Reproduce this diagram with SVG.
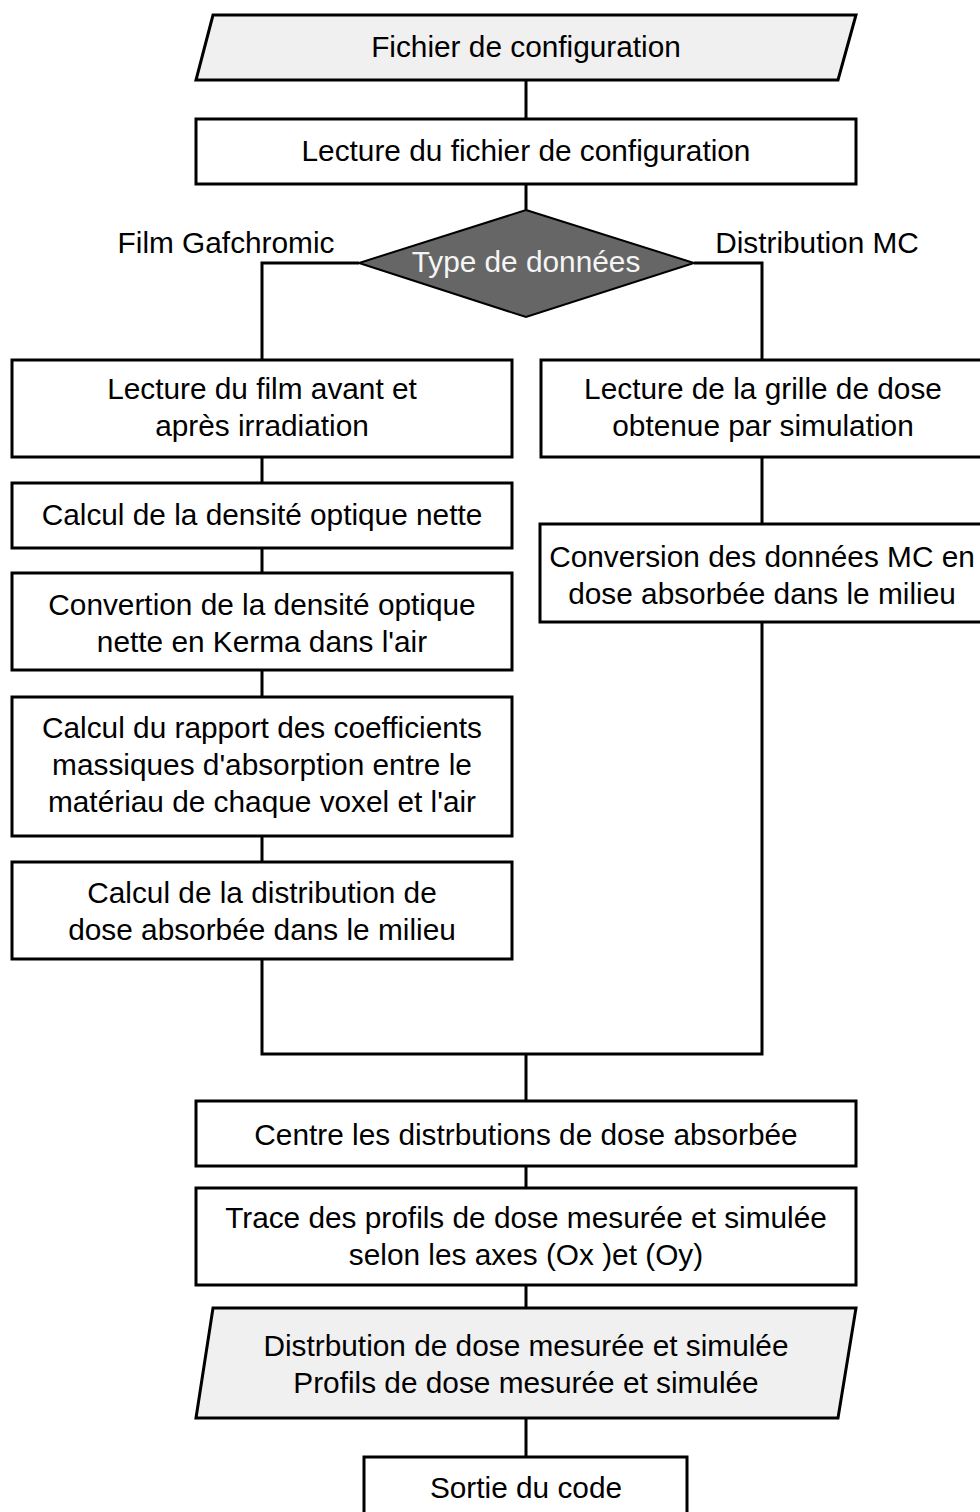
<svg xmlns="http://www.w3.org/2000/svg" width="980" height="1512" viewBox="0 0 980 1512">
<style>
.b{fill:#fff;stroke:#000;stroke-width:3}
.io{fill:#f0f0f0;stroke:#000;stroke-width:3}
.d{fill:#666;stroke:#000;stroke-width:2}
.c{fill:none;stroke:#000;stroke-width:3}
text{font-family:"Liberation Sans",Arial,sans-serif;font-size:29.8px;fill:#000;text-anchor:middle;dominant-baseline:central}
.w{fill:#f5f5f5}
</style>
<rect width="980" height="1512" fill="#fff"/>
<g id="connectors">
<path class="c" d="M526 80V119M526 184V210M359 263H262V360M694 263H762V360M262 457V483M262 548V573M262 670V697M262 836V862M262 959V1054H762V622M762 457V524M526 1054V1101M526 1166V1188M526 1285V1308M526 1418V1457"/>
</g>
<g id="n1"><polygon class="io" points="213,15 856,15 838,80 196,80"/><text x="526" y="46">Fichier de configuration</text></g>
<g id="n2"><rect class="b" x="196" y="119" width="660" height="65"/><text x="526" y="150">Lecture du fichier de configuration</text></g>
<g id="n3"><polygon class="d" points="526,210 694,263 526,317 359,263"/><text class="w" x="526" y="261">Type de données</text></g>
<g id="lbl1"><text x="226" y="242">Film Gafchromic</text></g>
<g id="lbl2"><text x="817" y="242">Distribution MC</text></g>
<g id="n4"><rect class="b" x="12" y="360" width="500" height="97"/><text x="262" y="388">Lecture du film avant et</text><text x="262" y="425">après irradiation</text></g>
<g id="n5"><rect class="b" x="12" y="483" width="500" height="65"/><text x="262" y="514">Calcul de la densité optique nette</text></g>
<g id="n6"><rect class="b" x="12" y="573" width="500" height="97"/><text x="262" y="604">Convertion de la densité optique</text><text x="262" y="641">nette en Kerma dans l'air</text></g>
<g id="n7"><rect class="b" x="12" y="697" width="500" height="139"/><text x="262" y="727">Calcul du rapport des coefficients</text><text x="262" y="764">massiques d'absorption entre le</text><text x="262" y="801">matériau de chaque voxel et l'air</text></g>
<g id="n8"><rect class="b" x="12" y="862" width="500" height="97"/><text x="262" y="892">Calcul de la distribution de</text><text x="262" y="929">dose absorbée dans le milieu</text></g>
<g id="n9"><rect class="b" x="541" y="360" width="460" height="97"/><text x="763" y="388">Lecture de la grille de dose</text><text x="763" y="425">obtenue par simulation</text></g>
<g id="n10"><rect class="b" x="540" y="524" width="460" height="98"/><text x="762" y="556">Conversion des données MC en</text><text x="762" y="593">dose absorbée dans le milieu</text></g>
<g id="n11"><rect class="b" x="196" y="1101" width="660" height="65"/><text x="526" y="1134">Centre les distrbutions de dose absorbée</text></g>
<g id="n12"><rect class="b" x="196" y="1188" width="660" height="97"/><text x="526" y="1217">Trace des profils de dose mesurée et simulée</text><text x="526" y="1254">selon les axes (Ox )et (Oy)</text></g>
<g id="n13"><polygon class="io" points="213,1308 856,1308 838,1418 196,1418"/><text x="526" y="1345">Distrbution de dose mesurée et simulée</text><text x="526" y="1382">Profils de dose mesurée et simulée</text></g>
<g id="n14"><rect class="b" x="364" y="1457" width="323" height="70"/><text x="526" y="1487">Sortie du code</text></g>
</svg>
